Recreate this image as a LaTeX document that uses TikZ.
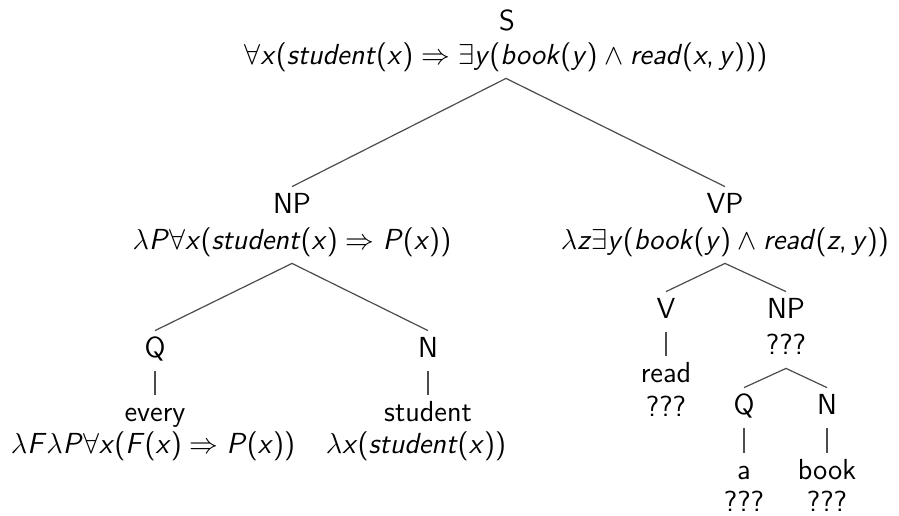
\documentclass[tikz,border=0pt]{standalone}
\usepackage{fontspec}
\newcommand{\sit}[1]{\textit{#1}}
\newcommand{\FA}{$\forall$}
\newcommand{\EX}{$\exists$}
\newcommand{\IMP}{${}\Rightarrow{}$}
\newcommand{\AND}{${}\wedge{}$}
\newcommand{\LAM}{$\lambda$}
\tikzset{
  t/.style={font=\sffamily\fontsize{14.5}{17}\selectfont, anchor=base, inner xsep=0pt, inner ysep=3pt, text height=10pt, text depth=4pt},
  edge/.style={draw=black!70, line width=0.6pt}
}
\begin{document}
\begin{tikzpicture}[x=0.5pt,y=-0.5pt]
\path[use as bounding box, fill=white] (0,0) rectangle (899,515);
% S
\node[t] (s) at (507,30) {S};
\node[t] (sf) at (506,64) {\FA\sit{x}(\sit{student}(\sit{x})\IMP\EX\sit{y}(\sit{book}(\sit{y})\AND\sit{read}(\sit{x},\,\sit{y})))};
% NP
\node[t] (np) at (292,213) {NP};
\node[t] (npf) at (292,249) {\LAM\sit{P}\FA\sit{x}(\sit{student}(\sit{x})\IMP\sit{P}(\sit{x}))};
% VP
\node[t] (vp) at (725,213) {VP};
\node[t] (vpf) at (725,249) {\LAM\sit{z}\EX\sit{y}(\sit{book}(\sit{y})\AND\sit{read}(\sit{z},\,\sit{y}))};
% Q left
\node[t] (q1) at (155,357) {Q};
\node[t] (q1w) at (155,421) {every};
\node[t] (q1f) at (153,453) {\LAM\sit{F}\LAM\sit{P}\FA\sit{x}(\sit{F}(\sit{x})\IMP\sit{P}(\sit{x}))};
% N left
\node[t] (n1) at (428,357) {N};
\node[t] (n1w) at (428,421) {student};
\node[t] (n1f) at (416,453) {\LAM\sit{x}(\sit{student}(\sit{x}))};
% V
\node[t] (v) at (666,318) {V};
\node[t] (vw) at (666,382) {read};
\node[t] (vf) at (666,416) {???};
% NP right
\node[t] (np2) at (786,318) {NP};
\node[t] (np2f) at (786,354) {???};
% Q right
\node[t] (q2) at (744,414) {Q};
\node[t] (q2w) at (744,479) {a};
\node[t] (q2f) at (744,511) {???};
% N right
\node[t] (n2) at (827,414) {N};
\node[t] (n2w) at (827,479) {book};
\node[t] (n2f) at (827,511) {???};
% edges
\draw[edge] (np.north) -- (sf.south) -- (vp.north);
\draw[edge] (q1.north) -- (npf.south) -- (n1.north);
\draw[edge] (v.north) -- (vpf.south) -- (np2.north);
\draw[edge] (q2.north) -- (np2f.south) -- (n2.north);
\draw[edge] (q1.south) -- (q1w.north);
\draw[edge] (n1.south) -- (n1w.north);
\draw[edge] (v.south) -- (vw.north);
\draw[edge] (q2.south) -- (q2w.north);
\draw[edge] (n2.south) -- (n2w.north);
\end{tikzpicture}
\end{document}
